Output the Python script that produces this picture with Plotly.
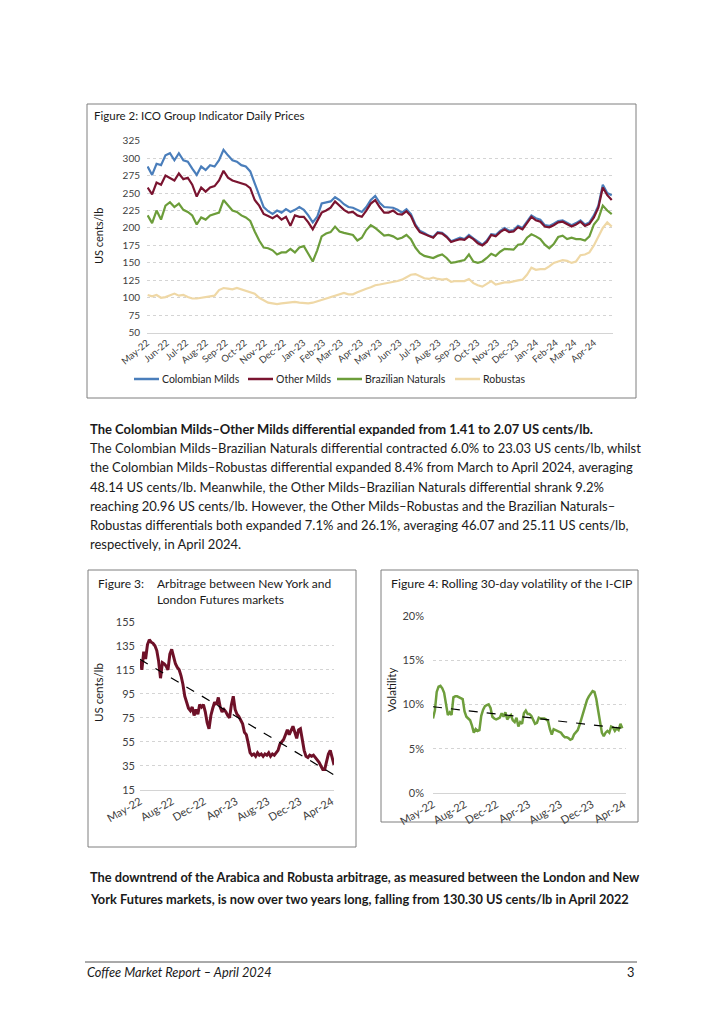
import numpy as np
import pandas as pd
import plotly.graph_objects as go

W, H = 724, 1024
OFF = 8  # page body margin compensation
FONT = "Lato"

# ---------------- Figure 2 data (weekly readings, US cents/lb) ----------------
fig2_start = "2022-05-02"
colombian = [288, 276, 292, 290, 304, 307, 297, 307, 297, 295, 285, 276, 288, 283, 290, 288, 297, 312, 304, 297, 295, 290, 288, 281, 264, 247, 230,
             224, 220, 225, 222, 227, 223, 226, 230, 226, 218, 208, 216, 235, 236, 238, 244, 240, 234, 230, 229, 226, 223, 230, 240, 246, 236, 230,
             230, 229, 226, 222, 227, 220, 205, 196, 193, 189, 187, 194, 193, 188, 181, 184, 186, 184, 190, 185, 180, 176, 182, 191, 190, 196, 200,
             196, 197, 203, 200, 209, 218, 214, 212, 204, 203, 206, 210, 211, 208, 204, 207, 211, 205, 208, 218, 232, 262, 250, 247]
other_milds = [258, 248, 265, 262, 275, 272, 268, 278, 270, 272, 262, 245, 258, 252, 258, 260, 268, 282, 272, 268, 266, 264, 262, 257, 240, 232, 220,
               217, 214, 218, 212, 216, 203, 218, 216, 216, 208, 198, 210, 222, 225, 229, 238, 232, 226, 222, 223, 218, 216, 225, 235, 240, 230, 222,
               222, 225, 220, 219, 224, 217, 203, 194, 191, 188, 186, 193, 192, 187, 180, 182, 184, 183, 188, 184, 178, 175, 180, 190, 188, 194, 198,
               194, 195, 201, 198, 207, 216, 211, 209, 202, 201, 204, 208, 209, 206, 202, 205, 209, 203, 206, 215, 229, 258, 247, 240]
brazilian = [218, 207, 225, 212, 232, 237, 230, 235, 226, 223, 218, 205, 215, 212, 218, 220, 222, 240, 232, 225, 223, 218, 215, 210, 195, 182, 172,
             171, 168, 162, 165, 165, 170, 165, 172, 174, 163, 152, 168, 188, 192, 194, 202, 195, 193, 191, 190, 182, 186, 197, 204, 200, 194, 189,
             190, 188, 184, 186, 190, 184, 172, 164, 160, 158, 157, 160, 162, 157, 150, 151, 152, 154, 162, 152, 150, 152, 157, 163, 160, 166, 170,
             170, 169, 176, 177, 186, 191, 188, 184, 176, 171, 177, 187, 189, 184, 186, 184, 184, 182, 188, 205, 213, 232, 225, 220]
robustas = [104, 102, 104, 100, 101, 104, 106, 103, 104, 101, 99, 99, 100, 100, 101, 103, 111, 114, 113, 112, 114, 112, 110, 109, 106, 100, 96,
            93, 92, 91, 92, 93, 93, 94, 93, 92, 92, 93, 95, 97, 100, 101, 104, 106, 107, 105, 105, 108, 111, 113, 115, 118, 119, 120,
            121, 122, 124, 126, 129, 133, 134, 131, 128, 127, 129, 127, 126, 127, 123, 124, 124, 124, 127, 121, 118, 116, 120, 124, 119, 121, 122,
            122, 124, 125, 126, 133, 143, 140, 141, 141, 145, 150, 152, 154, 153, 150, 152, 161, 162, 165, 175, 187, 200, 208, 202]
fig2_series = ["Colombian Milds", "Other Milds", "Brazilian Naturals", "Robustas"]
fig2_colors = ["#4a7ebb", "#7a1430", "#6c9d3a", "#efd8a6"]
fig2_ticks = pd.date_range("2022-05-01", "2024-04-01", freq="MS")

# ---------------- Figure 3 data (weekly, US cents/lb) ----------------
fig3_start = "2022-05-02"
arbitrage = [123, 115, 130, 124, 136, 140, 138, 137, 135, 131, 122, 108, 121, 120, 118, 115, 128, 132, 126, 120, 117, 115, 110, 103, 93, 87, 83,
             81, 84, 77, 82, 78, 86, 84, 86, 80, 71, 66, 77, 83, 88, 86, 92, 84, 80, 82, 80, 77, 75, 86, 93, 82, 78, 76, 73, 70, 63,
             61, 54, 46, 44, 45, 43, 46, 44, 45, 43, 45, 44, 46, 43, 45, 44, 46, 48, 53, 55, 57, 61, 65, 61, 64, 68, 63, 58, 65, 66,
             57, 48, 43, 42, 44, 43, 44, 42, 41, 38, 35, 32, 32, 40, 45, 48, 41, 36]
fig34_ticks = ["2022-05-02", "2022-08-30", "2022-12-28", "2023-04-27", "2023-08-25", "2023-12-23", "2024-04-21"]

# ---------------- Figure 4 data (weekly, %) ----------------
volatility = [8.4, 9.3, 11.4, 12.0, 12.1, 11.8, 11.3, 10.0, 8.8, 9.1, 8.8, 10.8, 10.9, 10.9, 10.8, 10.7, 10.6, 9.2, 8.6, 8.4, 8.2, 7.6, 6.8, 7.2, 7.0, 7.1,
              8.7, 9.4, 9.8, 9.9, 10.0, 9.6, 8.6, 8.4, 8.3, 8.4, 8.5, 9.0, 8.6, 9.1, 8.3, 8.6, 8.8, 8.2, 8.0, 8.5, 7.5, 8.0, 7.8, 9.0, 9.3,
              8.9, 8.9, 8.7, 8.3, 7.8, 7.9, 8.5, 8.4, 8.4, 8.4, 8.3, 8.1, 7.2, 6.6, 7.2, 7.1, 7.0, 6.9, 6.8, 6.5, 6.3, 6.3, 6.2, 6.0, 6.1,
              6.6, 6.9, 7.1, 7.7, 8.4, 9.2, 9.9, 10.5, 10.9, 11.2, 11.5, 11.4, 10.6, 9.3, 7.9, 6.8, 6.4, 6.8, 7.0, 6.8, 7.5, 7.4, 7.0, 7.3,
              7.1, 7.8, 7.3]

# ---------------- Text ----------------
para1 = [
    ("The Colombian Milds–Other Milds differential expanded from 1.41 to 2.07 US cents/lb.", True),
    ("The Colombian Milds–Brazilian Naturals differential contracted 6.0% to 23.03 US cents/lb, whilst", False),
    ("the Colombian Milds–Robustas differential expanded 8.4% from March to April 2024, averaging", False),
    ("48.14 US cents/lb. Meanwhile, the Other Milds–Brazilian Naturals differential shrank 9.2%", False),
    ("reaching 20.96 US cents/lb. However, the Other Milds–Robustas and the Brazilian Naturals–", False),
    ("Robustas differentials both expanded 7.1% and 26.1%, averaging 46.07 and 25.11 US cents/lb,", False),
    ("respectively, in April 2024.", False),
]
para2 = [
    "The downtrend of the Arabica and Robusta arbitrage, as measured between the London and New",
    "York Futures markets, is now over two years long, falling from 130.30 US cents/lb in April 2022",
]


def py(p):
    return 1 - (p - OFF) / H


def px(p):
    return (p - OFF) / W


fig = go.Figure()

d2 = pd.date_range(fig2_start, periods=len(colombian), freq="7D")
for name, vals, col in zip(fig2_series, [colombian, other_milds, brazilian, robustas], fig2_colors):
    fig.add_trace(go.Scatter(x=d2, y=vals, mode="lines", name=name, showlegend=False,
                             line=dict(color=col, width=2.2), xaxis="x", yaxis="y"))

# Figure 3
d3 = pd.date_range(fig3_start, periods=len(arbitrage), freq="7D")
fig.add_trace(go.Scatter(x=d3, y=arbitrage, mode="lines", showlegend=False, name="Arbitrage",
                         line=dict(color="#6e1128", width=3), xaxis="x2", yaxis="y2"))
t3 = (d3 - d3[0]).days.values.astype(float)
c3 = np.polyfit(t3, np.array(arbitrage, float), 1)
fig.add_trace(go.Scatter(x=[d3[0], d3[-1]], y=np.polyval(c3, [t3[0], t3[-1]]), mode="lines",
                         showlegend=False, name="Trend", line=dict(color="black", width=1.2, dash="dash"),
                         xaxis="x2", yaxis="y2"))

# Figure 4
d4 = pd.date_range(fig3_start, periods=len(volatility), freq="7D")
fig.add_trace(go.Scatter(x=d4, y=volatility, mode="lines", showlegend=False, name="Volatility",
                         line=dict(color="#6e9e3c", width=2.5), xaxis="x3", yaxis="y3"))
t4 = (d4 - d4[0]).days.values.astype(float)
c4 = np.polyfit(t4, np.array(volatility, float), 1)
end4 = pd.Timestamp("2024-04-29")
t4e = float((end4 - d4[0]).days)
fig.add_trace(go.Scatter(x=[d4[0], end4], y=np.polyval(c4, [t4[0], t4e]), mode="lines",
                         showlegend=False, name="Trend", line=dict(color="black", width=1.2, dash="dash"),
                         xaxis="x3", yaxis="y3"))

tickcol = "#404040"
grid = dict(showgrid=True, gridcolor="#d4d4d4", griddash="dot", gridwidth=1, zeroline=False,
            showline=False, ticks="", automargin=False)
xcommon = dict(showgrid=False, zeroline=False, showline=True, linecolor="#d4d4d4", linewidth=1,
               ticks="", tickformat="%b-%y", automargin=False)

fig.update_layout(
    template="none",
    width=W, height=H, autosize=False, showlegend=False,
    margin=dict(l=0, r=0, t=0, b=0, pad=0, autoexpand=False),
    paper_bgcolor="white", plot_bgcolor="white",
    font=dict(family=FONT, color="#222222"),
    xaxis=dict(domain=[px(147), px(613)], range=["2022-05-01", "2024-05-01"], anchor="y",
               tickvals=fig2_ticks, tickangle=-40, tickfont=dict(size=9.5, color=tickcol), **xcommon),
    yaxis=dict(domain=[py(332.7), py(140.7)], range=[50, 325], tick0=50, dtick=25, anchor="x",
               tickfont=dict(size=10, color=tickcol), ticklabelstandoff=6, **grid),
    xaxis2=dict(domain=[px(140), px(334)], range=["2022-05-02", "2024-04-29"], anchor="y2",
                tickvals=fig34_ticks, tickangle=-30, tickfont=dict(size=11, color=tickcol), **xcommon),
    yaxis2=dict(domain=[py(790), py(621.7)], range=[15, 155], tick0=15, dtick=20, anchor="x2",
                tickfont=dict(size=11, color=tickcol), ticklabelstandoff=4, **grid),
    xaxis3=dict(domain=[px(433), px(626)], range=["2022-05-02", "2024-04-29"], anchor="y3",
                tickvals=fig34_ticks, tickangle=-30, tickfont=dict(size=11, color=tickcol), **xcommon),
    yaxis3=dict(domain=[py(793), py(615.7)], range=[0, 20], tick0=0, dtick=5, ticksuffix="%", anchor="x3",
                tickfont=dict(size=11, color=tickcol), ticklabelstandoff=8, **grid),
)

# Boxes around figures
box = dict(type="rect", xref="paper", yref="paper", line=dict(color="#7f7f7f", width=1), layer="below")
fig.add_shape(x0=px(87), x1=px(636), y0=py(398), y1=py(104), **box)
fig.add_shape(x0=px(88), x1=px(356), y0=py(847), y1=py(570), **box)
fig.add_shape(x0=px(381), x1=px(638), y0=py(822), y1=py(570), **box)
# Footer rule
fig.add_shape(type="line", xref="paper", yref="paper", x0=px(85), x1=px(637), y0=py(962), y1=py(962),
              line=dict(color="#555555", width=1))


def txt(x, y, s, size=13, bold=False, italic=False, xanchor="left", color="#1a1a1a", angle=0):
    if bold:
        s = "<b>" + s + "</b>"
    if italic:
        s = "<i>" + s + "</i>"
    fig.add_annotation(x=px(x), y=py(y), xref="paper", yref="paper", text=s, showarrow=False,
                       xanchor=xanchor, yanchor="middle", textangle=angle,
                       font=dict(family=FONT, size=size, color=color))


# Legend of Figure 2 (line samples + labels)
legend_x = [134, 248, 337, 455]
legend_y = 379
for lx, name, col in zip(legend_x, fig2_series, fig2_colors):
    fig.add_shape(type="line", xref="paper", yref="paper", x0=px(lx), x1=px(lx + 25),
                  y0=py(legend_y), y1=py(legend_y), line=dict(color=col, width=2.5))
    txt(lx + 26, legend_y, name, size=10.5, color="#262626")

# Figure titles and axis titles
txt(92, 115, "Figure 2: ICO Group Indicator Daily Prices", size=11.5)
txt(98, 236, "US cents/lb", size=11, angle=-90, xanchor="center")
txt(96, 583, "Figure 3:", size=12)
txt(155, 583, "Arbitrage between New York and", size=12)
txt(155, 599, "London Futures markets", size=12)
txt(98, 693, "US cents/lb", size=11.5, angle=-90, xanchor="center")
txt(389, 583, "Figure 4: Rolling 30-day volatility of the I-CIP", size=12.3)
txt(391, 690, "Volatility", size=11.5, angle=-90, xanchor="center")

# Paragraphs
y = 429
for line, b in para1:
    txt(88, y, line, size=13, bold=b)
    y += 19.2
y = 877
for line in para2:
    txt(88, y, line, size=12.8, bold=True)
    y += 21.5

# Footer
txt(85, 972, "Coffee Market Report – April 2024", size=12.8, italic=True)
txt(636, 972, "3", size=12.8, xanchor="right")

fig.write_html("out.html")
